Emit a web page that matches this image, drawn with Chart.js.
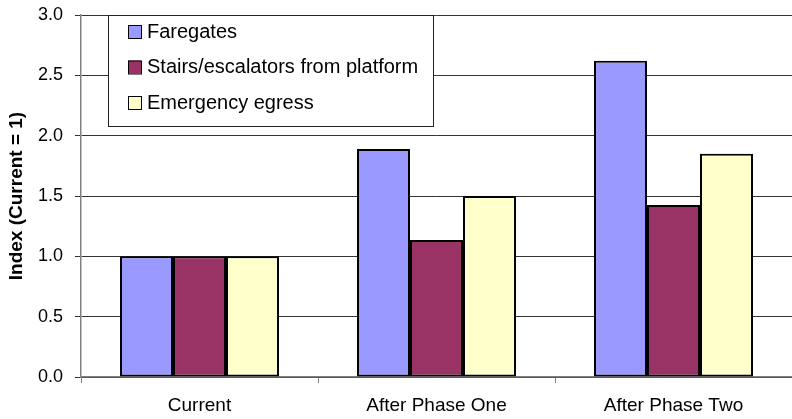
<!DOCTYPE html>
<html>
<head>
<meta charset="utf-8">
<script src="https://cdn.jsdelivr.net/npm/chart.js@4/dist/chart.umd.min.js"></script>
<style>
  html, body { margin: 0; padding: 0; background: #fff; }
  #wrap { width: 792px; height: 419px; }
</style>
</head>
<body>
<div id="wrap"><canvas id="chart" width="792" height="419"></canvas></div>
<script>
const categories = ["Current", "After Phase One", "After Phase Two"];
const faregates = [1.0, 1.89, 2.62];
const stairs = [1.0, 1.135, 1.425];
const egress = [1.0, 1.50, 1.85];
const seriesNames = ["Faregates", "Stairs/escalators from platform", "Emergency egress"];
const seriesColors = ["#9999FF", "#993366", "#FFFFCC"];

const FONT = "'Liberation Sans', Arial, sans-serif";

// legend box drawn inside the plot, like the original
const boxLegend = {
    id: "boxLegend",
    afterDatasetsDraw(chart) {
        const ctx = chart.ctx;
        const area = chart.chartArea;
        const x = area.left + 27, y = area.top;
        const w = 325, h = 111;
        ctx.save();
        ctx.fillStyle = "#fff";
        ctx.fillRect(x, y, w, h);
        ctx.strokeStyle = "#222";
        ctx.lineWidth = 1;
        ctx.strokeRect(x + 0.5, y + 0.5, w, h);
        ctx.font = "20px " + FONT;
        ctx.textBaseline = "middle";
        chart.data.datasets.forEach((ds, i) => {
            const cy = y + 16 + i * 35.5;
            ctx.fillStyle = ds.backgroundColor;
            ctx.fillRect(x + 20, cy - 6, 13, 13);
            ctx.strokeStyle = "#000";
            ctx.strokeRect(x + 20.5, cy - 5.5, 13, 13);
            ctx.fillStyle = "#000";
            ctx.fillText(ds.label, x + 39, cy + 1);
        });
        ctx.restore();
    }
};

const datasets = [faregates, stairs, egress].map((vals, i) => ({
    label: seriesNames[i],
    data: vals,
    backgroundColor: seriesColors[i],
    borderColor: "#000",
    borderWidth: 2,
    borderSkipped: false,
    categoryPercentage: 0.671,
    barPercentage: 1.0
}));

new Chart(document.getElementById("chart").getContext("2d"), {
    type: "bar",
    data: { labels: categories, datasets: datasets },
    options: {
        responsive: false,
        animation: false,
        layout: { padding: { top: 15, right: 0, left: 0, bottom: 0 } },
        plugins: {
            legend: { display: false },
            tooltip: { enabled: false }
        },
        scales: {
            x: {
                grid: {
                    display: true,
                    drawOnChartArea: false,
                    drawTicks: true,
                    tickLength: 6,
                    color: "#808080",
                    offset: true
                },
                border: { color: "#808080", width: 1.5 },
                ticks: {
                    color: "#000",
                    font: { family: FONT, size: 19 },
                    padding: 11,
                    maxRotation: 0
                },
                afterFit(s) { s.height = 42; }
            },
            y: {
                min: 0,
                max: 3,
                ticks: {
                    stepSize: 0.5,
                    color: "#000",
                    font: { family: FONT, size: 18 },
                    padding: 12,
                    callback: v => v.toFixed(1)
                },
                grid: {
                    color: "#333",
                    tickColor: "#333",
                    tickLength: 6,
                    lineWidth: 1
                },
                border: { color: "#808080", width: 1.5 },
                title: {
                    display: true,
                    text: "Index (Current = 1)",
                    color: "#000",
                    font: { family: FONT, size: 19, weight: "bold" },
                    padding: { top: 5, bottom: 0 }
                },
                afterFit(s) { s.width = 81; s.paddingTop = 0; s.paddingBottom = 0; }
            }
        }
    },
    plugins: [boxLegend]
});
</script>
</body>
</html>
